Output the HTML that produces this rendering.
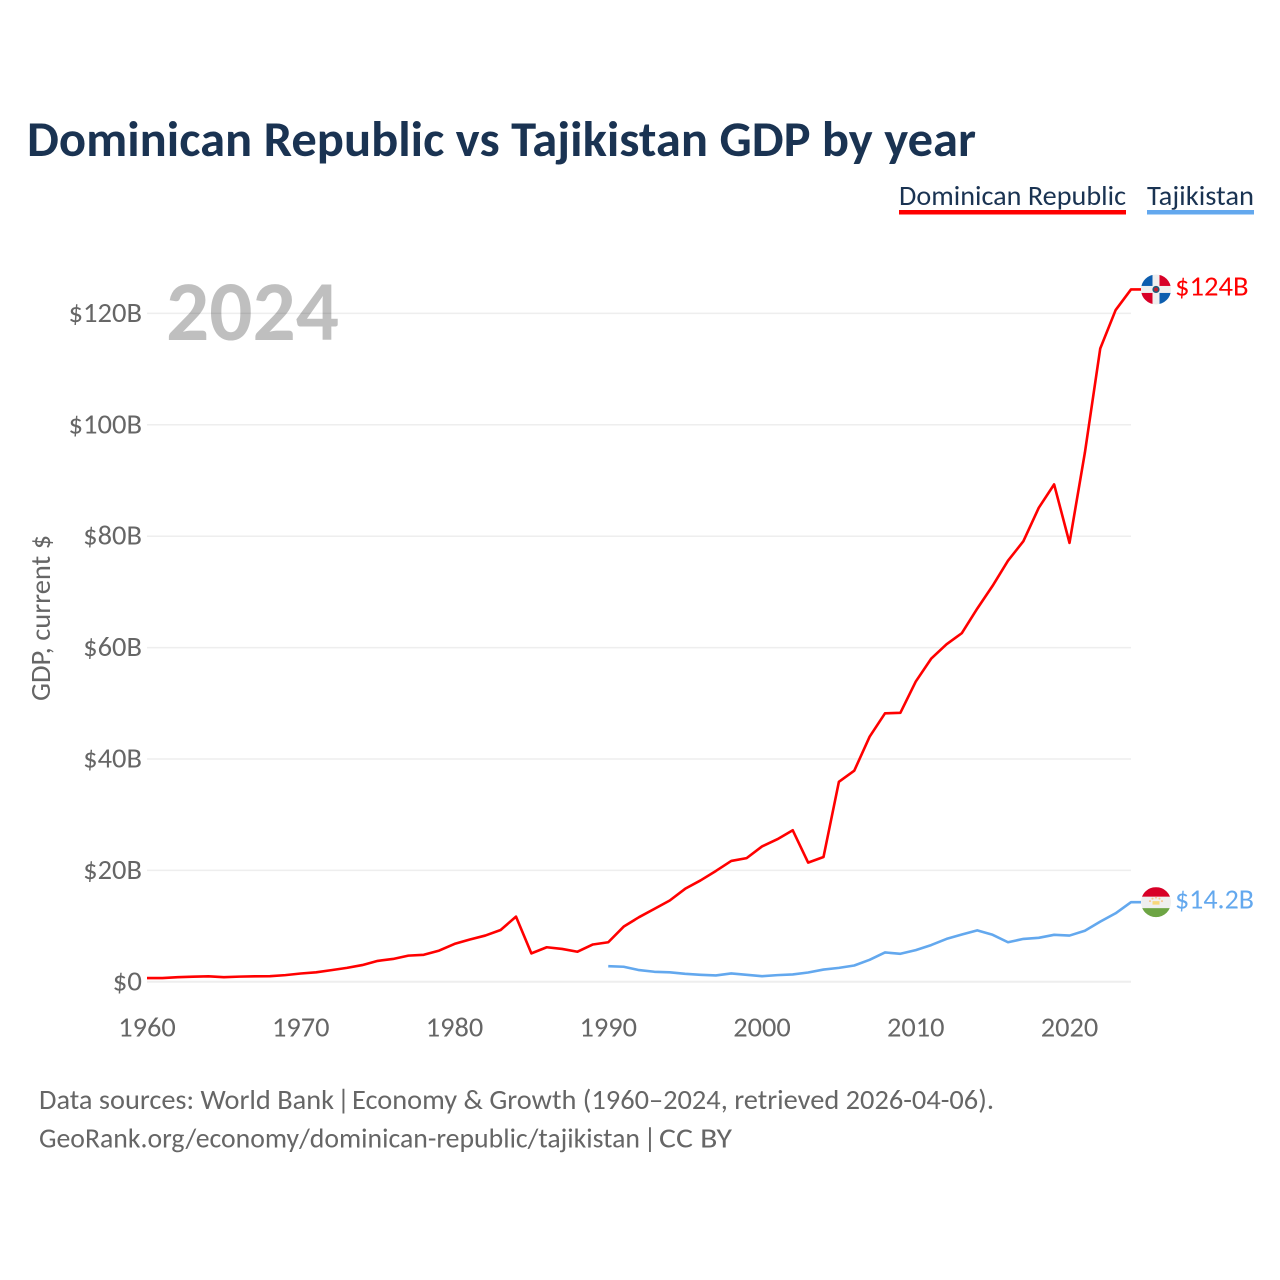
<!DOCTYPE html>
<html lang="en">
<head>
<meta charset="utf-8">
<title>Dominican Republic vs Tajikistan GDP by year</title>
<style>
html,body{margin:0;padding:0;background:#fff;}
svg{display:block;font-family:Carlito,Lato,"Liberation Sans",sans-serif;}
</style>
</head>
<body>
<svg id="chart" xmlns="http://www.w3.org/2000/svg" width="1280" height="1280" viewBox="0 0 1280 1280">
  <rect x="0" y="0" width="1280" height="1280" fill="#ffffff"/>
  <text x="27" y="156" font-size="50" font-weight="700" fill="#1a3352" textLength="949" lengthAdjust="spacingAndGlyphs">Dominican Republic vs Tajikistan GDP by year</text>
  <g>
    <text x="899" y="205" font-size="28" fill="#1a3352" textLength="227" lengthAdjust="spacingAndGlyphs">Dominican Republic</text>
    <rect x="899" y="210" width="227" height="4.5" fill="#ff0000"/>
  </g>
  <g>
    <text x="1147" y="205" font-size="28" fill="#1a3352" textLength="107" lengthAdjust="spacingAndGlyphs">Tajikistan</text>
    <rect x="1147" y="210" width="107" height="4.5" fill="#63a8ee"/>
  </g>
  <text transform="translate(50,701) rotate(-90)" font-size="28" fill="#666666" textLength="166" lengthAdjust="spacingAndGlyphs">GDP, current $</text>
  <g id="grid"></g>
  <text x="166" y="340" font-size="85" font-weight="700" fill="#000000" fill-opacity="0.25" textLength="173" lengthAdjust="spacingAndGlyphs">2024</text>
  <g id="yticks"></g>
  <g id="xticks"></g>
  <g id="series"></g>
  <g id="flag-dr">
    <clipPath id="clip-dr"><circle cx="0" cy="0" r="15"/></clipPath>
    <g clip-path="url(#clip-dr)">
      <rect x="-15" y="-15" width="30" height="30" fill="#efefef"/>
      <rect x="-15" y="-15" width="11.5" height="11.5" fill="#0d5eaf"/>
      <rect x="3.5" y="-15" width="11.5" height="11.5" fill="#d80027"/>
      <rect x="-15" y="3.5" width="11.5" height="11.5" fill="#d80027"/>
      <rect x="3.5" y="3.5" width="11.5" height="11.5" fill="#0d5eaf"/>
      <circle cx="0" cy="0" r="3.6" fill="#1f5a7a"/>
      <circle cx="0" cy="0" r="2" fill="#c0202f"/>
    </g>
  </g>
  <g id="flag-tj">
    <clipPath id="clip-tj"><circle cx="0" cy="0" r="15"/></clipPath>
    <g clip-path="url(#clip-tj)">
      <rect x="-15" y="-15" width="30" height="30" fill="#efefef"/>
      <rect x="-15" y="-15" width="30" height="9.5" fill="#d80027"/>
      <rect x="-15" y="6" width="30" height="9.5" fill="#6da544"/>
      <rect x="-3.5" y="-1" width="7" height="3.5" fill="#f8d77a"/>
      <circle cx="-6" cy="-1" r="1" fill="#f8c48a"/>
      <circle cx="6" cy="-1" r="1" fill="#f8c48a"/>
      <circle cx="-3.5" cy="-3.5" r="1" fill="#f8c48a"/>
      <circle cx="3.5" cy="-3.5" r="1" fill="#f8c48a"/>
      <circle cx="0" cy="-4.5" r="1" fill="#f8c48a"/>
    </g>
  </g>
  <text id="label-dr" x="1175" font-size="28" fill="#ff0000" textLength="73.5" lengthAdjust="spacingAndGlyphs">$124B</text>
  <text id="label-tj" x="1175" font-size="28" fill="#63a8ee" textLength="79" lengthAdjust="spacingAndGlyphs">$14.2B</text>
  <g font-size="28" fill="#666666">
    <text x="39" y="1109" textLength="295" lengthAdjust="spacingAndGlyphs">Data sources: World Bank</text>
    <text x="337" y="1109">|</text>
    <text x="352" y="1109" textLength="642" lengthAdjust="spacingAndGlyphs">Economy &amp; Growth (1960–2024, retrieved 2026-04-06).</text>
  </g>
  <g font-size="28" fill="#666666">
    <text x="39" y="1147.5" textLength="601" lengthAdjust="spacingAndGlyphs">GeoRank.org/economy/dominican-republic/tajikistan</text>
    <text x="643.5" y="1147.5">|</text>
    <text x="659" y="1147.5" textLength="73" lengthAdjust="spacingAndGlyphs">CC BY</text>
  </g>
</svg>
<script>
const drStartYear = 1960;
const tjStartYear = 1990;
const drValues = [0.67,0.67,0.82,0.92,0.98,0.83,0.93,0.98,1.0,1.2,1.49,1.7,2.1,2.5,3.0,3.75,4.1,4.7,4.85,5.6,6.8,7.6,8.3,9.3,11.7,5.1,6.2,5.9,5.4,6.7,7.1,9.9,11.6,13.1,14.6,16.7,18.2,19.9,21.7,22.2,24.3,25.6,27.2,21.4,22.4,35.9,37.9,44.0,48.2,48.3,53.9,58.0,60.6,62.6,67.0,71.1,75.6,79.1,85.1,89.3,78.8,95.0,113.7,120.6,124.3];
const tjValues = [2.8,2.7,2.1,1.8,1.7,1.43,1.26,1.14,1.5,1.26,1.0,1.2,1.32,1.67,2.2,2.5,2.93,3.95,5.27,5.03,5.69,6.59,7.7,8.5,9.24,8.44,7.1,7.7,7.9,8.44,8.3,9.16,10.8,12.3,14.3];
const yTickValues = [0,20,40,60,80,100,120];
const yTickLabels = ["$0","$20B","$40B","$60B","$80B","$100B","$120B"];
const xTickValues = [1960,1970,1980,1990,2000,2010,2020];
const xTickLabels = ["1960","1970","1980","1990","2000","2010","2020"];

const NS = "http://www.w3.org/2000/svg";
const plotLeft = 147, plotRight = 1131, zeroY = 981.8, bottomLabelY = 1036.5;
function xScale(year){ return plotLeft + (year - 1960) * (plotRight - plotLeft) / 64; }
function yScale(v){ return zeroY - v * 5.57; }

const grid = document.getElementById("grid");
const yticks = document.getElementById("yticks");
const xticks = document.getElementById("xticks");
const series = document.getElementById("series");

yTickValues.forEach(function(v, i){
  const line = document.createElementNS(NS, "line");
  
  
  line.setAttribute("x1", plotLeft);
  line.setAttribute("x2", plotRight);
  line.setAttribute("y1", yScale(v));
  line.setAttribute("y2", yScale(v));
  line.setAttribute("stroke", "#eeeeee");
  line.setAttribute("stroke-width", v === 0 ? 2 : 1.5);
  grid.appendChild(line);

  const t = document.createElementNS(NS, "text");
  
  
  t.setAttribute("x", 142);
  t.setAttribute("y", yScale(v) + 8.5);
  t.setAttribute("text-anchor", "end");
  t.setAttribute("font-size", "28");
  t.setAttribute("fill", "#666666");
  t.setAttribute("textLength", yTickLabels[i].length * 14.7);
  t.setAttribute("lengthAdjust", "spacingAndGlyphs");
  t.textContent = yTickLabels[i];
  yticks.appendChild(t);
});

xTickValues.forEach(function(year, i){
  const t = document.createElementNS(NS, "text");
  
  
  t.setAttribute("x", xScale(year));
  t.setAttribute("y", bottomLabelY);
  t.setAttribute("text-anchor", "middle");
  t.setAttribute("font-size", "28");
  t.setAttribute("fill", "#666666");
  t.setAttribute("textLength", 57.5);
  t.setAttribute("lengthAdjust", "spacingAndGlyphs");
  t.textContent = xTickLabels[i];
  xticks.appendChild(t);
});

function linePoints(values, startYear){
  return values.map(function(v, i){
    return xScale(startYear + i).toFixed(2) + "," + yScale(v).toFixed(2);
  });
}

const tjPts = linePoints(tjValues, tjStartYear);
const tjLast = tjValues[tjValues.length - 1];
tjPts.push((plotRight + 10) + "," + yScale(tjLast).toFixed(2));
const tjLine = document.createElementNS(NS, "polyline");


tjLine.setAttribute("points", tjPts.join(" "));
tjLine.setAttribute("fill", "none");
tjLine.setAttribute("stroke", "#63a8ee");
tjLine.setAttribute("stroke-width", "2.6");
tjLine.setAttribute("stroke-linejoin", "round");
series.appendChild(tjLine);

const drPts = linePoints(drValues, drStartYear);
const drLast = drValues[drValues.length - 1];
drPts.push((plotRight + 10) + "," + yScale(drLast).toFixed(2));
const drLine = document.createElementNS(NS, "polyline");


drLine.setAttribute("points", drPts.join(" "));
drLine.setAttribute("fill", "none");
drLine.setAttribute("stroke", "#ff0000");
drLine.setAttribute("stroke-width", "2.6");
drLine.setAttribute("stroke-linejoin", "round");
series.appendChild(drLine);

document.getElementById("flag-dr").setAttribute("transform", "translate(1156," + yScale(drLast).toFixed(2) + ")");
document.getElementById("flag-tj").setAttribute("transform", "translate(1156," + yScale(tjLast).toFixed(2) + ")");
document.getElementById("label-dr").setAttribute("y", (yScale(drLast) + 6).toFixed(2));
document.getElementById("label-tj").setAttribute("y", (yScale(tjLast) + 6.5).toFixed(2));
</script>
</body>
</html>
